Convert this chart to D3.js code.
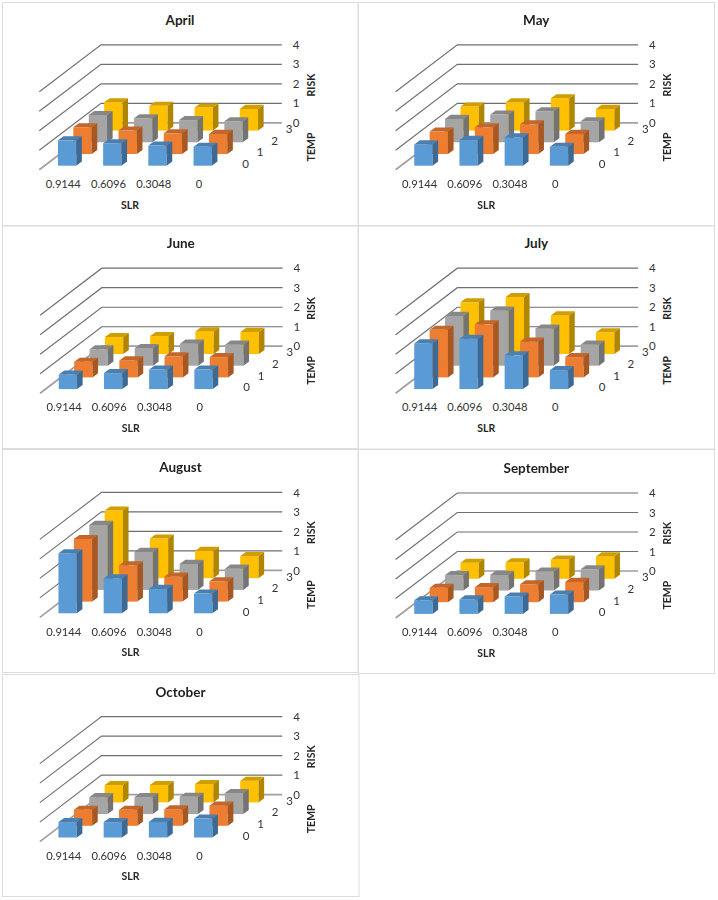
<!DOCTYPE html>
<html><head><meta charset="utf-8">
<script src="https://cdn.jsdelivr.net/npm/d3@7"></script>
<style>html,body{margin:0;padding:0;background:#fff}svg{display:block;filter:blur(.4px)}
text{font-family:Lato,"Open Sans",sans-serif;fill:#333}</style></head><body>
<svg id="c" width="718" height="900"></svg>
<script>
const slrCats=["0.9144","0.6096","0.3048","0"];
const tempCats=["0","1","2","3"];
const riskTicks=[0,1,2,3,4];
const seriesColors=["#5b9bd5","#ed7d31","#a5a5a5","#ffc000"];
const topColors=["#4a7fb0","#c2662a","#878787","#d19e00"];
const sideColors=["#3c6a94","#a85720","#737373","#b08500"];
const months=["April","May","June","July","August","September","October"];
const april=[[1.3,1.15,1.03,.97],[1.37,1.2,1.06,1.03],[1.4,1.23,1.14,1.08],[1.45,1.27,1.18,1.11]];
const may=[[1.09,1.32,1.45,.97],[1.15,1.37,1.52,1.03],[1.2,1.42,1.59,1.08],[1.23,1.45,1.66,1.11]];
const june=[[.75,.82,1,1],[.8,.87,1.08,1.04],[.84,.9,1.13,1.08],[.87,.92,1.16,1.13]];
const july=[[2.34,2.58,1.73,.97],[2.44,2.72,1.83,1.04],[2.55,2.82,1.9,1.08],[2.65,2.92,1.98,1.11]];
const august=[[3.08,1.79,1.25,1.01],[3.21,1.86,1.28,1.04],[3.33,1.95,1.33,1.09],[3.47,2.03,1.4,1.13]];
const september=[[.7,.74,.89,.99],[.74,.77,.92,1.04],[.79,.8,.97,1.09],[.82,.85,.99,1.15]];
const october=[[.79,.79,.8,.97],[.82,.82,.84,1.03],[.87,.87,.89,1.08],[.89,.89,.94,1.11]];
const monthValues=[april,may,june,july,august,september,october];

const frames=[[2.5,2.5,355.5,223],[358.5,2.5,356,223],[2.5,226,355.5,222.5],[358.5,226,356,223],[2.5,449.5,355.5,223],[358.5,449.5,356,224],[2.5,674.5,356.5,222]];
const origins=[[0,0],[356.3,0],[.8,223.4],[356.3,223.4],[.5,447.6],[356.3,448.2],[.5,671.8]];

const svg=d3.select("#c");
const x=d3.scaleBand().domain(slrCats).range([39.3,220.1]).paddingInner(.595).paddingOuter(.2975);
const depth=d3.scalePoint().domain(tempCats).range([0,46.2]);
const rise=d3.scalePoint().domain(tempCats).range([0,35.1]);
const y=d3.scaleLinear().domain([0,4]).range([169.8,91.8]);
const wallDX=61.7,wallDY=47,barDX=5.6,barDY=4.1,frontDX=5.2,frontDY=4.1;

months.forEach((m,mi)=>{
  const f=frames[mi],o=origins[mi];
  svg.append("rect").attr("x",f[0]).attr("y",f[1]).attr("width",f[2]).attr("height",f[3]).attr("fill","#fff").attr("stroke","#dcdcdc").attr("stroke-width",1);
  const g=svg.append("g").attr("transform",`translate(${o[0]},${o[1]})`);
  g.append("text").attr("x",180).attr("y",20).attr("dy",".35em").attr("text-anchor","middle").style("font-weight","700").style("font-size","13.5px").style("fill","#1f1f1f").text(m);
  riskTicks.forEach(r=>{
    const c=r===0?"#a0a0a0":"#6f6f6f",w=r===0?1.7:1.15;
    g.append("path").attr("fill","none").attr("stroke",c).attr("stroke-width",w)
     .attr("d",d3.line()([[39.3,y(r)],[39.3+wallDX,y(r)-wallDY],[39.3+wallDX+180.8,y(r)-wallDY]]));
  });
  const ax=g.append("g").attr("transform",`translate(${39.3+wallDX+180.8},${-wallDY})`)
    .call(d3.axisRight(y).tickValues(riskTicks).tickSize(0).tickPadding(11).tickFormat(d3.format("d")));
  ax.select(".domain").remove();
  ax.selectAll("text").style("font-size","11.5px").style("font-family","Lato").style("fill","#333");
  for(let t=3;t>=0;t--){
    slrCats.forEach((s,si)=>{
      const v=monthValues[mi][t][si];
      const x0=x(s)+depth(tempCats[t])+frontDX,x1=x0+x.bandwidth();
      const b=y(0)-rise(tempCats[t])-frontDY,h=y(0)-y(v),tp=b-h;
      const bg=g.append("g").attr("class","bar");
      bg.append("rect").attr("x",x0).attr("y",tp).attr("width",x.bandwidth()).attr("height",h).attr("fill",seriesColors[t]);
      bg.append("path").attr("fill",topColors[t]).attr("d",d3.line()([[x0,tp],[x0+barDX,tp-barDY],[x1+barDX,tp-barDY],[x1,tp]])+"Z");
      bg.append("path").attr("fill",sideColors[t]).attr("d",d3.line()([[x1,tp],[x1+barDX,tp-barDY],[x1+barDX,b-barDY],[x1,b]])+"Z");
    });
  }
  const xa=g.append("g").attr("transform","translate(1.4,175)").call(d3.axisBottom(x).tickSize(0).tickPadding(5));
  xa.select(".domain").remove();
  xa.selectAll("text").style("font-size","11.2px").style("font-family","Lato").style("fill","#333");
  tempCats.forEach(t=>{
    g.append("text").attr("x",245.7+depth(t)*.94).attr("y",164-rise(t)).attr("dy",".35em").attr("text-anchor","middle").style("font-size","11.5px").text(t);
  });
  g.append("text").attr("x",130).attr("y",205).attr("dy",".35em").attr("text-anchor","middle").style("font-weight","700").style("font-size","10.5px").style("fill","#262626").text("SLR");
  [["RISK",85],["TEMP",147]].forEach(d=>{
    g.append("text").attr("transform",`translate(311,${d[1]}) rotate(-90)`).attr("dy",".35em").attr("text-anchor","middle").style("font-weight","700").style("font-size","10.5px").style("fill","#262626").text(d[0]);
  });
});
</script></body></html>
